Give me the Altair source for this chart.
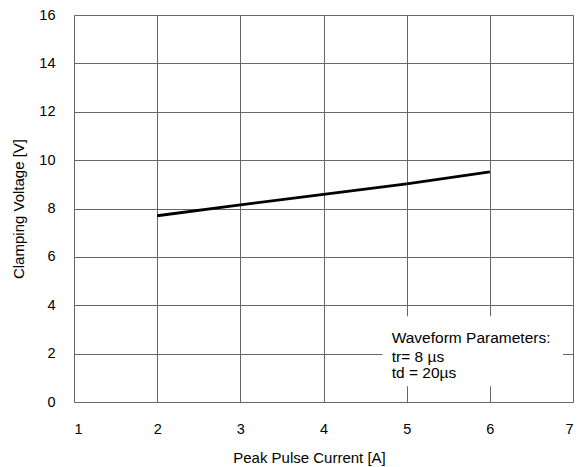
import altair as alt
import pandas as pd

current = [2, 3, 4, 5, 6]
voltage = [7.70, 8.15, 8.58, 9.02, 9.51]

box_x = [4.71]
box_x2 = [6.88]
box_y = [0.65]
box_y2 = [3.55]

note_lines = ["Waveform Parameters:", "tr= 8 µs", "td = 20µs"]
note_x = [4.82, 4.82, 4.82]
note_y = [2.42, 1.645, 0.98]

FONT = "Liberation Sans"

line_df = pd.DataFrame({"I": current, "V": voltage})
box_df = pd.DataFrame({"x": box_x, "x2": box_x2, "y": box_y, "y2": box_y2})
note_df = pd.DataFrame({"t": note_lines, "x": note_x, "y": note_y})

xscale = alt.Scale(domain=[1, 7], nice=False, zero=False)
yscale = alt.Scale(domain=[0, 16], nice=False)

xaxis = alt.Axis(values=[1, 2, 3, 4, 5, 6, 7], format="d", title="Peak Pulse Current [A]",
                 grid=True, gridColor="#666666", gridWidth=1, gridOpacity=1,
                 domain=False, ticks=False, tickSize=0, labelPadding=20,
                 labelFont=FONT, labelFontSize=14.5, labelColor="#000000",
                 titleFont=FONT, titleFontSize=15, titleFontWeight="normal",
                 titleColor="#000000", titleX=235, titleY=60,
                 titleBaseline="alphabetic", titleAlign="center")
yaxis = alt.Axis(values=list(range(0, 17, 2)), format="d", title="Clamping Voltage [V]",
                 grid=True, gridColor="#666666", gridWidth=1, gridOpacity=1,
                 domain=False, ticks=False, tickSize=0, labelPadding=19,
                 labelFont=FONT, labelFontSize=14.5, labelColor="#000000",
                 titleFont=FONT, titleFontSize=15, titleFontWeight="normal",
                 titleColor="#000000", titleX=-56, titleBaseline="middle",
                 titleAlign="center")

box = alt.Chart(box_df).mark_rect(color="white", opacity=1).encode(
    x=alt.X("x:Q", scale=xscale, axis=xaxis),
    x2="x2:Q",
    y=alt.Y("y:Q", scale=yscale, axis=yaxis),
    y2="y2:Q",
)

line = alt.Chart(line_df).mark_line(color="black", strokeWidth=2.8).encode(
    x=alt.X("I:Q", scale=xscale),
    y=alt.Y("V:Q", scale=yscale),
)

note = alt.Chart(note_df).mark_text(align="left", baseline="alphabetic",
                                    font=FONT, fontSize=15.5, color="black").encode(
    x=alt.X("x:Q", scale=xscale),
    y=alt.Y("y:Q", scale=yscale),
    text="t:N",
)

chart = alt.layer(box, line, note).properties(
    width=499, height=387,
    autosize=alt.AutoSizeParams(type="none"),
    padding={"left": 66, "top": 7, "right": 3, "bottom": 64},
).configure_view(stroke="black", strokeWidth=1.6).configure(background="white")

chart.save("out.html", embed_options={"renderer": "svg", "actions": False})
